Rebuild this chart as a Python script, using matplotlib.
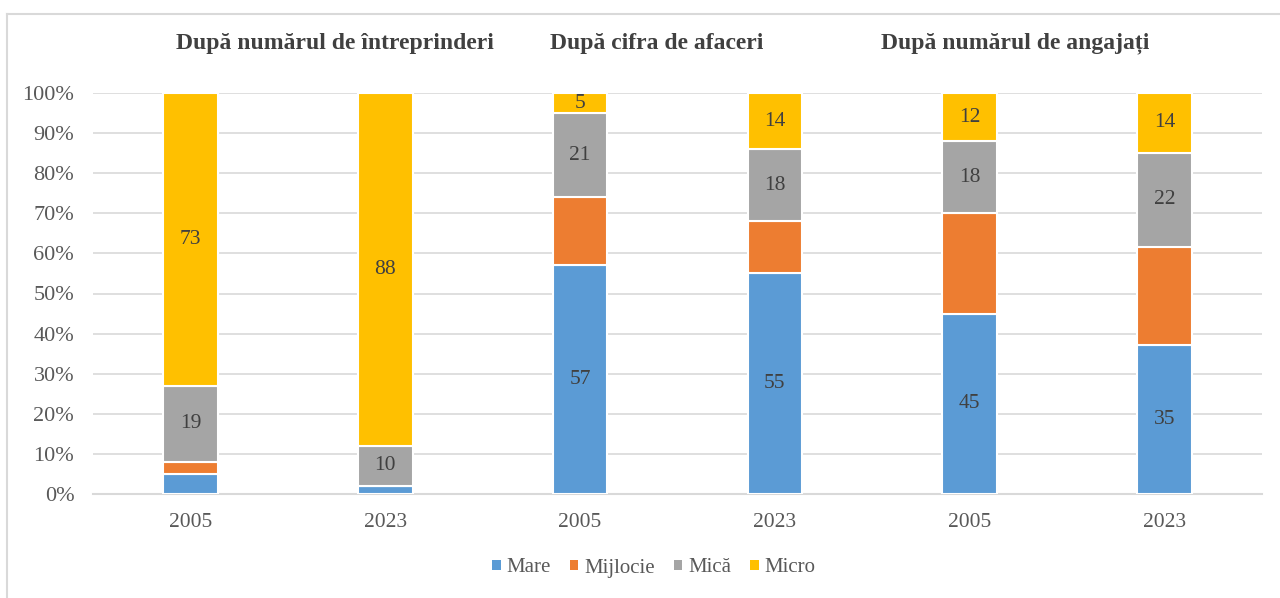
import matplotlib
matplotlib.use("Agg")
import matplotlib.pyplot as plt
from matplotlib.lines import Line2D
from matplotlib.patches import Patch
import numpy as np

plt.rcParams['font.family'] = ['Liberation Serif', 'DejaVu Serif']

years = ["2005", "2023", "2005", "2023", "2005", "2023"]
group_titles = ["După numărul de întreprinderi", "După cifra de afaceri", "După numărul de angajați"]
series_names = ["Mare", "Mijlocie", "Mică", "Micro"]
mare = [5, 2, 57, 55, 45, 35]
mijlocie = [3, 0, 17, 13, 25, 23]
mica = [19, 10, 21, 18, 18, 22]
micro = [73, 88, 5, 14, 12, 14]
# which values get a data label
show_mare = [False, False, True, True, True, True]
show_mijlocie = [False, False, False, False, False, False]
show_mica = [True, True, True, True, True, True]
show_micro = [True, True, True, True, True, True]
yticks = [0, 10, 20, 30, 40, 50, 60, 70, 80, 90, 100]

colors = ["#5B9BD5", "#ED7D31", "#A5A5A5", "#FFC000"]
txt_color = "#404040"
tick_color = "#595959"

fig = plt.figure(figsize=(12.8, 5.98), dpi=100)
ax = fig.add_axes([93/1280, 1-494/598, (1262-93)/1280, (494-93)/598])

data = np.array([mare, mijlocie, mica, micro], dtype=float)
shows = [show_mare, show_mijlocie, show_mica, show_micro]
totals = data.sum(axis=0)
pct = data / totals * 100
x = np.arange(len(years))
bottom = np.zeros(len(years))
for i, name in enumerate(series_names):
    bars = ax.bar(x, pct[i], bottom=bottom, width=0.28, color=colors[i],
                  edgecolor="white", linewidth=1.5, label=name, zorder=3)
    for j, b in enumerate(bars):
        if shows[i][j]:
            ax.text(x[j], bottom[j] + pct[i][j] / 2, f"{int(data[i][j])}",
                    ha="center", va="center", fontsize=15.5, color=txt_color, zorder=4)
    bottom += pct[i]

ax.set_xlim(-0.5, len(years) - 0.5)
ax.set_ylim(0, 100)
ax.set_yticks(yticks)
ax.set_yticklabels([f"{t}%" for t in yticks])
ax.set_xticks(x)
ax.set_xticklabels(years)
ax.tick_params(axis="both", length=0, colors=tick_color)
ax.tick_params(axis="x", pad=14, labelsize=15.5)
ax.tick_params(axis="y", pad=13.5, labelsize=16)
ax.grid(axis="y", color="#D9D9D9", linewidth=1.2, zorder=0)
for s in ["top", "right", "left"]:
    ax.spines[s].set_visible(False)
ax.spines["bottom"].set_color("#D9D9D9")
ax.spines["bottom"].set_linewidth(1.5)

title_x = [335, 657, 1015]
for t, tx in zip(group_titles, title_x):
    fig.text(tx/1280, 1-43/598, t, ha="center", va="center", fontsize=17,
             fontweight="bold", color=txt_color)

handles = [Patch(facecolor=c, edgecolor="none", label=n) for c, n in zip(colors, series_names)]
fig.legend(handles=handles, loc="center", bbox_to_anchor=(654/1280, 1-568/598), ncol=4,
           frameon=False, fontsize=15, handlelength=0.4, handleheight=0.4,
           handletextpad=0.3, columnspacing=0.9, labelcolor=tick_color)

# figure border
fig.add_artist(Line2D([7/1280, 1.0], [1-14/598, 1-14/598], color="#D9D9D9", linewidth=1.5))
fig.add_artist(Line2D([7/1280, 7/1280], [0, 1-14/598], color="#D9D9D9", linewidth=1.5))

fig.savefig("out.png", dpi=100, facecolor="white")
